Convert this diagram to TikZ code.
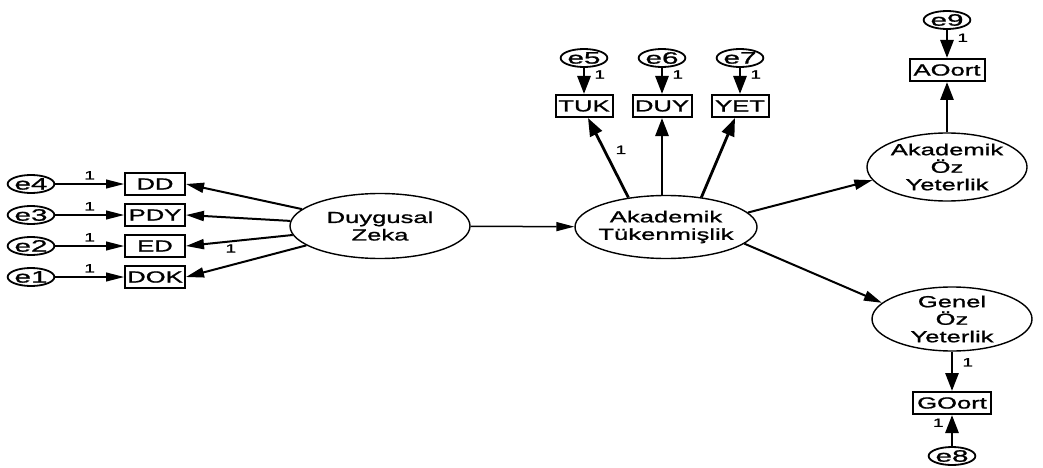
\documentclass[tikz,border=0pt]{standalone}
\usepackage{fontspec}
\newfontfamily\amosfont{Liberation Sans}[FakeStretch=1.6,FakeBold=1.2]
\newfontfamily\errfont{Liberation Sans}[FakeStretch=1.8,FakeBold=1.2]
\usetikzlibrary{shapes.geometric,arrows.meta}

\tikzset{
  latent/.style={draw, ellipse, line width=1.4pt, minimum width=180pt, minimum height=65pt,
    inner xsep=-10pt, inner ysep=-2pt, align=center, font=\amosfont\fontsize{16}{17.5}\selectfont},
  observed/.style={draw, rectangle, line width=2pt, minimum height=22pt, inner sep=0pt,
    font=\amosfont\fontsize{16}{17}\selectfont},
  errterm/.style={draw, ellipse, line width=1.8pt, minimum width=44pt, minimum height=18pt,
    inner sep=0pt, font=\errfont\fontsize{16.5}{17}\selectfont},
  one/.style={font=\amosfont\fontsize{12}{12}\selectfont, inner sep=0pt},
  thinarr/.style={line width=1.1pt, -{Triangle[length=18pt,width=9pt]}},
  medarr/.style={line width=2pt, -{Triangle[length=18pt,width=10pt]}},
  thickarr/.style={line width=2.8pt, -{Triangle[length=18pt,width=13pt]}}
}

\begin{document}
\begin{tikzpicture}[x=1pt,y=-1pt]
\useasboundingbox (0,0) rectangle (1043,468);

% Duygusal Zeka and its indicators
\node [latent] (zeka) at (380,226) {Duygusal\\Zeka};

\node [errterm] (e4) at (31,184) {e4};
\node [errterm] (e3) at (31,215) {e3};
\node [errterm] (e2) at (31,246) {e2};
\node [errterm] (e1) at (31,277) {e1};

\node [observed, minimum width=60pt] (DD) at (155,184) {DD};
\node [observed, minimum width=60pt] (PDY) at (155,215) {PDY};
\node [observed, minimum width=60pt] (ED) at (155,246) {ED};
\node [observed, minimum width=60pt] (DOK) at (155,277) {DOK};

\draw [thinarr] (e4) -- node [one, above=4pt] {1} (DD);
\draw [thinarr] (e3) -- node [one, above=4pt] {1} (PDY);
\draw [thinarr] (e2) -- node [one, above=4pt] {1} (ED);
\draw [thinarr] (e1) -- node [one, above=4pt] {1} (DOK);

\draw [medarr] (zeka) -- (DD.east);
\draw [medarr] (zeka) -- (PDY.east);
\draw [medarr] (zeka) -- node [one, pos=0.58, below=2pt] {1} (ED.east);
\draw [medarr] (zeka) -- (DOK.east);

% Akademik Tukenmislik
\node [latent, minimum width=182pt, minimum height=63pt] (tuk) at (666,227) {Akademik\\Tükenmişlik};
\draw [line width=1.5pt, -{Triangle[length=18pt,width=9pt]}] (zeka) -- (tuk);

\node [observed, minimum width=57pt] (TUK) at (584,106) {TUK};
\node [observed, minimum width=59pt] (DUY) at (662,106) {DUY};
\node [observed, minimum width=57pt] (YET) at (740,106) {YET};

\node [errterm] (e5) at (584,58) {e5};
\node [errterm] (e6) at (662,58) {e6};
\node [errterm] (e7) at (740,58) {e7};

\draw [thickarr] (e5) -- node [one, pos=0.25, right=9pt] {1} (TUK);
\draw [thickarr] (e6) -- node [one, pos=0.25, right=9pt] {1} (DUY);
\draw [thickarr] (e7) -- node [one, pos=0.25, right=9pt] {1} (YET);

\draw [thickarr] (tuk.142) -- node [one, pos=0.6, right=10pt] {1} ([xshift=4pt]TUK.south);
\draw [thickarr] (tuk.north -| DUY.south) -- (DUY.south);
\draw [thickarr] (tuk.40) -- ([xshift=-5pt]YET.south);

% Akademik Oz Yeterlik
\node [latent, minimum width=160pt, minimum height=68pt] (aoz) at (947,167) {Akademik\\Öz\\Yeterlik};
\node [observed, minimum width=75pt] (AOort) at (947,70) {AOort};
\node [errterm] (e9) at (947,20) {e9};
\draw [thickarr] (e9) -- node [one, pos=0.28, right=9pt] {1} (AOort);
\draw [thickarr] (aoz) -- (AOort);
\draw [medarr] (tuk.10) -- (aoz.190);

% Genel Oz Yeterlik
\node [latent, minimum width=160pt, minimum height=64pt] (genel) at (952,319) {Genel\\Öz\\Yeterlik};
\node [observed, minimum width=78pt] (GOort) at (952,403) {GOort};
\node [errterm, minimum width=40pt] (e8) at (952,456) {e8};
\draw [thickarr] (genel) -- node [one, pos=0.27, right=9pt] {1} (GOort);
\draw [thickarr] (e8) -- node [one, pos=0.75, left=7pt] {1} (GOort);
\draw [medarr] (tuk.-12) -- (genel.167);
\end{tikzpicture}
\end{document}
